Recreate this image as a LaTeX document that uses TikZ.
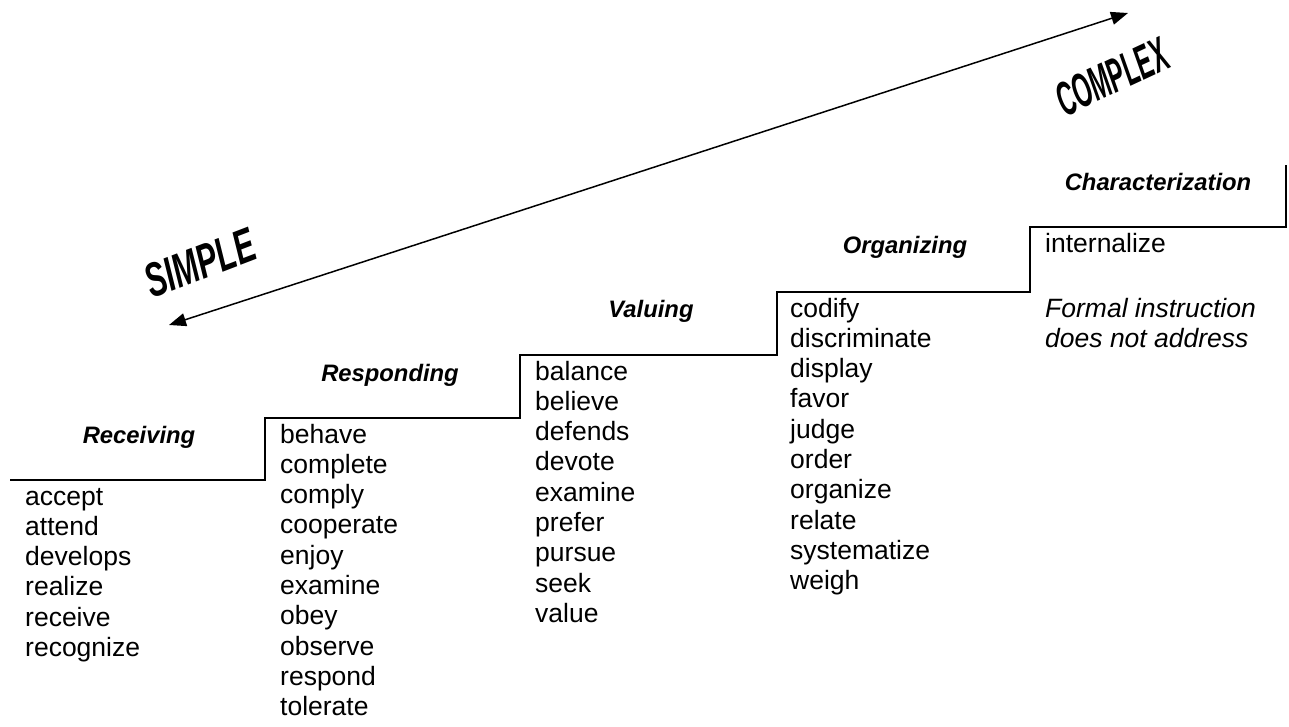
\documentclass[tikz,border=0pt]{standalone}
\usepackage{fontspec}
\setmainfont{Liberation Sans}
\newfontfamily\simplefont[FakeStretch=0.64]{Liberation Sans}
\newfontfamily\complexfont[FakeStretch=0.5]{Liberation Sans}
\usetikzlibrary{arrows.meta}
\begin{document}
\begin{tikzpicture}[x=1pt,y=-1pt,
  word/.style={anchor=base west, inner sep=0pt, font=\fontsize{26.5}{30}\selectfont},
  head/.style={anchor=base, inner sep=0pt, font=\fontsize{23.8}{28}\selectfont\bfseries\itshape},
  stair/.style={line width=2.3pt},
  bigword/.style={inner sep=0pt},
  dir/.style={{Triangle[length=17pt,width=13pt]}-{Triangle[length=17pt,width=13pt]}, line width=1.5pt}
]
\useasboundingbox (0,0) rectangle (1289,726);

% staircase
\draw[stair] (10,480) -- (265,480) -- (265,418) -- (520,418) -- (520,355)
  -- (777,355) -- (777,292) -- (1030,292) -- (1030,227) -- (1286,227) -- (1286,165);

% headers
\node[head] (hrec) at (139,443) {Receiving};
\node[head] (hres) at (390,381) {Responding};
\node[head] (hval) at (651,317) {Valuing};
\node[head] (horg) at (905,253) {Organizing};
\node[head] (hcha) at (1158,190) {Characterization};

% columns
\foreach \w [count=\i from 0] in {accept,attend,develops,realize,receive,recognize}
  \node[word] (rc\i) at (25,{505+30.3*\i}) {\w};
\foreach \w [count=\i from 0] in {behave,complete,comply,cooperate,enjoy,examine,obey,observe,respond,tolerate}
  \node[word] (rs\i) at (280,{443+30.3*\i}) {\w};
\foreach \w [count=\i from 0] in {balance,believe,defends,devote,examine,prefer,pursue,seek,value}
  \node[word] (va\i) at (535,{380+30.3*\i}) {\w};
\foreach \w [count=\i from 0] in {codify,discriminate,display,favor,judge,order,organize,relate,systematize,weigh}
  \node[word] (or\i) at (790,{317+30.3*\i}) {\w};
\node[word] (ch0) at (1045,252) {internalize};
\node[word] (ch1) at (1045,317) {\itshape Formal instruction};
\node[word] (ch2) at (1045,347.3) {\itshape does not address};

% direction arrow
\coordinate (lo) at (169,325);
\coordinate (hi) at (1128,13);
\draw[dir] (lo) -- (hi);

\node[bigword, rotate=21, font=\simplefont\fontsize{48}{48}\selectfont\bfseries\itshape] (simple) at (200,263) {SIMPLE};
\node[bigword, rotate=25, font=\complexfont\fontsize{48}{48}\selectfont\bfseries\itshape] (complex) at (1112,77) {COMPLEX};
\end{tikzpicture}
\end{document}
